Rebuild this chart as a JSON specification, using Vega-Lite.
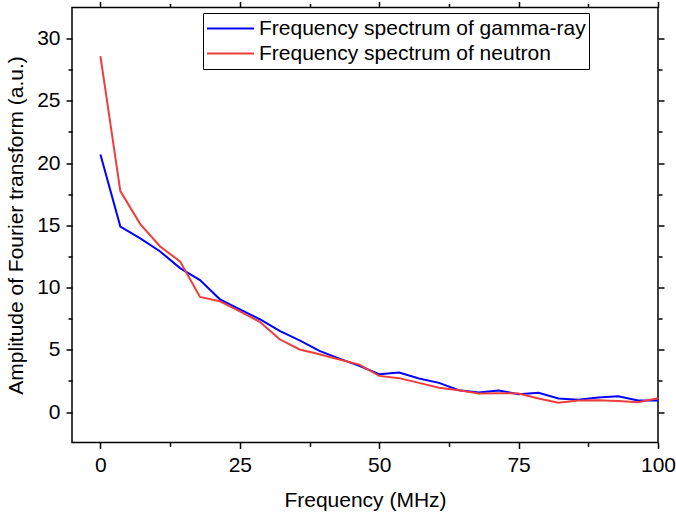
{
  "$schema": "https://vega.github.io/schema/vega-lite/v6.json",
  "width": 586,
  "height": 435,
  "autosize": "none",
  "padding": {"left": 72, "top": 7.5, "right": 18, "bottom": 75.5},
  "background": "white",
  "config": {
    "view": {"stroke": "#000", "strokeWidth": 1.5},
    "font": "Liberation Sans",
    "axis": {
      "domain": false,
      "grid": false,
      "labelFlush": false,
      "labelOverlap": false,
      "tickColor": "#000",
      "tickWidth": 1.5,
      "labelColor": "#000",
      "labelFont": "Liberation Sans",
      "labelFontSize": 21,
      "titleFont": "Liberation Sans",
      "titleFontSize": 21,
      "titleFontWeight": "normal",
      "titleColor": "#000"
    }
  },
  "data": {
    "values": [
      {"f": 0.0, "s": "Frequency spectrum of gamma-ray", "a": 20.7},
      {"f": 3.571, "s": "Frequency spectrum of gamma-ray", "a": 14.9},
      {"f": 7.143, "s": "Frequency spectrum of gamma-ray", "a": 13.95},
      {"f": 10.714, "s": "Frequency spectrum of gamma-ray", "a": 12.9},
      {"f": 14.286, "s": "Frequency spectrum of gamma-ray", "a": 11.57},
      {"f": 17.857, "s": "Frequency spectrum of gamma-ray", "a": 10.6},
      {"f": 21.429, "s": "Frequency spectrum of gamma-ray", "a": 9.06},
      {"f": 25.0, "s": "Frequency spectrum of gamma-ray", "a": 8.26},
      {"f": 28.571, "s": "Frequency spectrum of gamma-ray", "a": 7.46},
      {"f": 32.143, "s": "Frequency spectrum of gamma-ray", "a": 6.52},
      {"f": 35.714, "s": "Frequency spectrum of gamma-ray", "a": 5.77},
      {"f": 39.286, "s": "Frequency spectrum of gamma-ray", "a": 4.92},
      {"f": 42.857, "s": "Frequency spectrum of gamma-ray", "a": 4.3},
      {"f": 46.429, "s": "Frequency spectrum of gamma-ray", "a": 3.72},
      {"f": 50.0, "s": "Frequency spectrum of gamma-ray", "a": 3.05},
      {"f": 53.571, "s": "Frequency spectrum of gamma-ray", "a": 3.18},
      {"f": 57.143, "s": "Frequency spectrum of gamma-ray", "a": 2.7},
      {"f": 60.714, "s": "Frequency spectrum of gamma-ray", "a": 2.35},
      {"f": 64.286, "s": "Frequency spectrum of gamma-ray", "a": 1.76},
      {"f": 67.857, "s": "Frequency spectrum of gamma-ray", "a": 1.58},
      {"f": 71.429, "s": "Frequency spectrum of gamma-ray", "a": 1.74},
      {"f": 75.0, "s": "Frequency spectrum of gamma-ray", "a": 1.44},
      {"f": 78.571, "s": "Frequency spectrum of gamma-ray", "a": 1.55},
      {"f": 82.143, "s": "Frequency spectrum of gamma-ray", "a": 1.1},
      {"f": 85.714, "s": "Frequency spectrum of gamma-ray", "a": 0.99},
      {"f": 89.286, "s": "Frequency spectrum of gamma-ray", "a": 1.18},
      {"f": 92.857, "s": "Frequency spectrum of gamma-ray", "a": 1.28},
      {"f": 96.429, "s": "Frequency spectrum of gamma-ray", "a": 0.93},
      {"f": 100.0, "s": "Frequency spectrum of gamma-ray", "a": 0.93},
      {"f": 0.0, "s": "Frequency spectrum of neutron", "a": 28.6},
      {"f": 3.571, "s": "Frequency spectrum of neutron", "a": 17.75},
      {"f": 7.143, "s": "Frequency spectrum of neutron", "a": 15.1},
      {"f": 10.714, "s": "Frequency spectrum of neutron", "a": 13.3},
      {"f": 14.286, "s": "Frequency spectrum of neutron", "a": 12.1},
      {"f": 17.857, "s": "Frequency spectrum of neutron", "a": 9.25},
      {"f": 21.429, "s": "Frequency spectrum of neutron", "a": 8.9},
      {"f": 25.0, "s": "Frequency spectrum of neutron", "a": 8.1},
      {"f": 28.571, "s": "Frequency spectrum of neutron", "a": 7.25},
      {"f": 32.143, "s": "Frequency spectrum of neutron", "a": 5.85},
      {"f": 35.714, "s": "Frequency spectrum of neutron", "a": 5.03},
      {"f": 39.286, "s": "Frequency spectrum of neutron", "a": 4.65},
      {"f": 42.857, "s": "Frequency spectrum of neutron", "a": 4.22},
      {"f": 46.429, "s": "Frequency spectrum of neutron", "a": 3.82},
      {"f": 50.0, "s": "Frequency spectrum of neutron", "a": 2.91},
      {"f": 53.571, "s": "Frequency spectrum of neutron", "a": 2.73},
      {"f": 57.143, "s": "Frequency spectrum of neutron", "a": 2.35},
      {"f": 60.714, "s": "Frequency spectrum of neutron", "a": 1.95},
      {"f": 64.286, "s": "Frequency spectrum of neutron", "a": 1.76},
      {"f": 67.857, "s": "Frequency spectrum of neutron", "a": 1.5},
      {"f": 71.429, "s": "Frequency spectrum of neutron", "a": 1.52},
      {"f": 75.0, "s": "Frequency spectrum of neutron", "a": 1.5},
      {"f": 78.571, "s": "Frequency spectrum of neutron", "a": 1.1},
      {"f": 82.143, "s": "Frequency spectrum of neutron", "a": 0.75},
      {"f": 85.714, "s": "Frequency spectrum of neutron", "a": 0.93},
      {"f": 89.286, "s": "Frequency spectrum of neutron", "a": 0.96},
      {"f": 92.857, "s": "Frequency spectrum of neutron", "a": 0.9},
      {"f": 96.429, "s": "Frequency spectrum of neutron", "a": 0.8},
      {"f": 100.0, "s": "Frequency spectrum of neutron", "a": 1.12}
    ]
  },
  "resolve": {"axis": {"x": "independent", "y": "independent"}},
  "layer": [
    {
      "mark": {"type": "line", "strokeOpacity": 0},
      "encoding": {
        "x": {"field": "f", "type": "quantitative", "scale": {"domain": [-5.1, 100], "nice": false, "zero": false},
          "axis": {"orient": "top", "values": [0, 25, 50, 75, 100], "labels": false, "tickSize": 6, "title": null}},
        "y": {"field": "a", "type": "quantitative", "scale": {"domain": [-2.44, 32.5], "nice": false, "zero": false},
          "axis": {"orient": "right", "values": [0, 5, 10, 15, 20, 25, 30], "labels": false, "tickSize": 6, "title": null}},
        "detail": {"field": "s"}
      }
    },
    {
      "mark": {"type": "line", "strokeOpacity": 0},
      "encoding": {
        "x": {"field": "f", "type": "quantitative",
          "axis": {"orient": "top", "values": [12.5, 37.5, 62.5, 87.5], "labels": false, "tickSize": 4, "title": null}},
        "y": {"field": "a", "type": "quantitative",
          "axis": {"orient": "right", "values": [2.5, 7.5, 12.5, 17.5, 22.5, 27.5], "labels": false, "tickSize": 4, "title": null}},
        "detail": {"field": "s"}
      }
    },
    {
      "mark": {"type": "line", "strokeOpacity": 0},
      "encoding": {
        "x": {"field": "f", "type": "quantitative",
          "axis": {"orient": "bottom", "values": [12.5, 37.5, 62.5, 87.5], "labels": false, "tickSize": 4, "title": null}},
        "y": {"field": "a", "type": "quantitative",
          "axis": {"orient": "left", "values": [2.5, 7.5, 12.5, 17.5, 22.5, 27.5], "labels": false, "tickSize": 4, "title": null}},
        "detail": {"field": "s"}
      }
    },
    {
      "mark": {"type": "line", "strokeWidth": 2},
      "encoding": {
        "x": {"field": "f", "type": "quantitative",
          "axis": {"orient": "bottom", "values": [0, 25, 50, 75, 100], "tickSize": 6, "labelPadding": 6, "title": "Frequency (MHz)", "titlePadding": 14}},
        "y": {"field": "a", "type": "quantitative",
          "axis": {"orient": "left", "values": [0, 5, 10, 15, 20, 25, 30], "tickSize": 6, "labelPadding": 6, "title": "Amplitude of Fourier transform (a.u.)", "titlePadding": 10}},
        "color": {"field": "s", "type": "nominal",
          "scale": {"domain": ["Frequency spectrum of gamma-ray", "Frequency spectrum of neutron"], "range": ["#0000ff", "#ee3d3d"]},
          "legend": {
            "title": null, "orient": "none", "legendX": 131, "legendY": 5.5,
            "symbolType": "stroke", "symbolSize": 2209, "symbolStrokeWidth": 2,
            "clipHeight": 25, "rowPadding": 0,
            "labelFont": "Liberation Sans", "labelFontSize": 21, "labelColor": "#000", "labelOffset": 4, "labelLimit": 500,
            "strokeColor": "#000", "fillColor": "#fff", "padding": 3
          }
        }
      }
    }
  ]
}
